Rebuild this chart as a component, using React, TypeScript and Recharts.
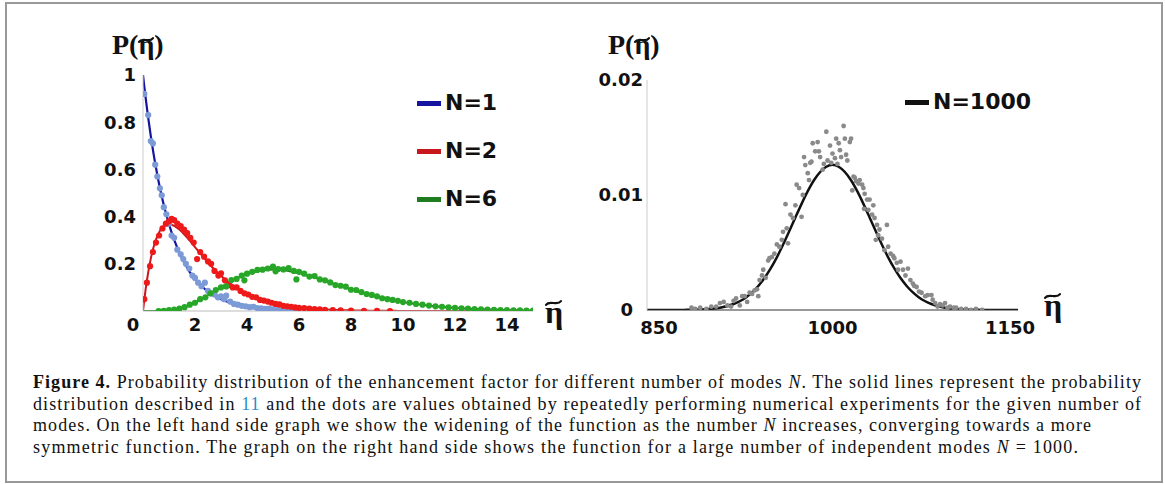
import { ComposedChart, Legend, Line, Scatter, XAxis, YAxis } from "recharts";

// left panel: solid curves sampled along eta
const leftCurveX = [
  0, 0.05, 0.1, 0.15, 0.2, 0.3, 0.4, 0.5, 0.6, 0.7, 0.8, 0.9, 1.0,
  1.2, 1.4, 1.6, 1.8, 2.0, 2.2, 2.4, 2.6, 2.8, 3.0, 3.2, 3.4, 3.6, 3.8, 4.0,
  4.2, 4.4, 4.6, 4.8, 5.0, 5.2, 5.4, 5.6, 5.8, 6.0, 6.2, 6.4, 6.6, 6.8, 7.0,
  7.2, 7.4, 7.6, 7.8, 8.0, 8.2, 8.4, 8.6, 8.8, 9.0, 9.2, 9.4, 9.6, 9.8, 10.0,
  10.5, 11, 11.5, 12, 12.5, 13, 13.5, 14, 14.5, 15,
];
const curveN1 = [
  1, 0.951, 0.905, 0.861, 0.819, 0.741, 0.67, 0.607, 0.549, 0.497, 0.449, 0.407, 0.368,
  0.301, 0.247, 0.202, 0.165, 0.135, 0.111, 0.091, 0.074, 0.061, 0.05, 0.041, 0.033, 0.027,
  0.022, 0.018, 0.015, 0.012, 0.01, 0.008, 0.007, 0.0055, 0.0045, 0.0037, 0.003, 0.0025,
];
const curveN2 = [
  0, 0.0476, 0.0905, 0.129, 0.164, 0.222, 0.268, 0.303, 0.329, 0.348, 0.359, 0.366, 0.368,
  0.361, 0.345, 0.323, 0.298, 0.271, 0.244, 0.218, 0.193, 0.17, 0.149, 0.13, 0.113, 0.098,
  0.085, 0.073, 0.063, 0.054, 0.046, 0.04, 0.034, 0.029, 0.024, 0.021, 0.018, 0.015, 0.0126,
  0.0106, 0.009, 0.0076, 0.0064, 0.0054, 0.0045, 0.0038, 0.0032, 0.0027, 0.0023, 0.0019,
  0.0016, 0.0013, 0.0011, 0.0009, 0.0008, 0.0007, 0.0005, 0.00045,
  0.0003, 0.0002, 0.0001, 0.0001, 0, 0, 0, 0, 0, 0,
];
const curveN6 = [
  0, 0, 0, 0, 0, 0, 0.0001, 0.0002, 0.0004, 0.0007, 0.0012, 0.002, 0.0031,
  0.0062, 0.0111, 0.0176, 0.026, 0.0361, 0.0476, 0.0602, 0.0735, 0.0872, 0.1008,
  0.114, 0.1264, 0.1377, 0.1477, 0.1563, 0.1634, 0.1688, 0.1725, 0.1747, 0.1755,
  0.1748, 0.1728, 0.1697, 0.1656, 0.1606, 0.1549, 0.1487, 0.1419, 0.135, 0.1277,
  0.1204, 0.113, 0.1058, 0.0986, 0.0916, 0.0849, 0.0784, 0.0722, 0.0663, 0.0607,
  0.0555, 0.0506, 0.046, 0.0418, 0.0378,
  0.0293, 0.0224, 0.017, 0.0127, 0.0095, 0.007, 0.0051, 0.0037, 0.0027, 0.0019,
];

// left panel: simulated dots [eta, P]
const dotsN1 = [
  [0.05, 0.92], [0.2, 0.83], [0.3, 0.72], [0.38, 0.71], [0.47, 0.62], [0.55, 0.57], [0.65, 0.52],
  [0.72, 0.49], [0.8, 0.44], [0.9, 0.41], [1.0, 0.37], [1.1, 0.32], [1.2, 0.31], [1.32, 0.26],
  [1.45, 0.24], [1.55, 0.22], [1.65, 0.2], [1.78, 0.18], [1.9, 0.15], [2.0, 0.14], [2.12, 0.12],
  [2.25, 0.105], [2.38, 0.12], [2.5, 0.085], [2.62, 0.075], [2.75, 0.07], [2.88, 0.058],
  [3.0, 0.062], [3.12, 0.05], [3.2, 0.065], [3.35, 0.04], [3.5, 0.03], [3.65, 0.027], [3.8, 0.022],
  [3.95, 0.02], [4.1, 0.016], [4.25, 0.018], [4.4, 0.012], [4.55, 0.011], [4.7, 0.009],
  [4.85, 0.01], [5.0, 0.007], [5.2, 0.006], [5.4, 0.005], [5.6, 0.004], [5.8, 0.003], [6.0, 0.002],
];
const dotsN2 = [
  [0.05, 0.05], [0.15, 0.12], [0.27, 0.19], [0.38, 0.25], [0.5, 0.29], [0.62, 0.32], [0.75, 0.35],
  [0.88, 0.37], [1.0, 0.38], [1.1, 0.39], [1.2, 0.385], [1.32, 0.37], [1.45, 0.36], [1.58, 0.345],
  [1.7, 0.33], [1.82, 0.31], [1.95, 0.29], [2.08, 0.22], [2.2, 0.25], [2.35, 0.23], [2.5, 0.21],
  [2.62, 0.2], [2.75, 0.17], [2.9, 0.15], [3.0, 0.16], [3.15, 0.13], [3.3, 0.11], [3.45, 0.1],
  [3.6, 0.1], [3.75, 0.085], [3.9, 0.075], [4.05, 0.07], [4.2, 0.06], [4.35, 0.058], [4.5, 0.047],
  [4.65, 0.044], [4.8, 0.04], [4.95, 0.035], [5.1, 0.03], [5.25, 0.028], [5.4, 0.022], [5.55, 0.02],
  [5.7, 0.018], [5.85, 0.015], [6.0, 0.013], [6.2, 0.012], [6.4, 0.01], [6.6, 0.008], [6.8, 0.007],
  [7.0, 0.005], [7.3, 0.004], [7.6, 0.003], [8.0, 0.002], [8.5, 0.001], [9.0, 0.001], [9.5, 0],
];
const dotsN6 = [
  [0.6, 0], [0.8, 0.001], [1.0, 0.004], [1.2, 0.006], [1.4, 0.01], [1.6, 0.016], [1.8, 0.027],
  [2.0, 0.035], [2.2, 0.05], [2.4, 0.058], [2.6, 0.075], [2.8, 0.089], [3.0, 0.1], [3.2, 0.104],
  [3.4, 0.131], [3.6, 0.136], [3.8, 0.15], [3.9, 0.13], [4.0, 0.158], [4.2, 0.166], [4.4, 0.174],
  [4.6, 0.175], [4.8, 0.18], [5.0, 0.188], [5.1, 0.168], [5.2, 0.178], [5.4, 0.176], [5.6, 0.182],
  [5.8, 0.17], [5.9, 0.134], [6.0, 0.166], [6.2, 0.158], [6.4, 0.146], [6.6, 0.148], [6.8, 0.134],
  [7.0, 0.13], [7.2, 0.121], [7.4, 0.11], [7.6, 0.107], [7.8, 0.103], [8.0, 0.09], [8.2, 0.089],
  [8.4, 0.08], [8.6, 0.072], [8.8, 0.068], [9.0, 0.062], [9.2, 0.054], [9.4, 0.05], [9.6, 0.047],
  [9.8, 0.043], [10.0, 0.038], [10.25, 0.035], [10.5, 0.03], [10.75, 0.027], [11.0, 0.023],
  [11.25, 0.02], [11.5, 0.018], [11.75, 0.015], [12.0, 0.013], [12.25, 0.011], [12.5, 0.01],
  [12.75, 0.008], [13.0, 0.007], [13.25, 0.006], [13.5, 0.005], [13.75, 0.004], [14.0, 0.004],
  [14.25, 0.003], [14.5, 0.003], [14.75, 0.002], [15.0, 0.002],
];

// right panel: N = 1000
const rightCurveX = [
  850, 860, 870, 880, 890, 900, 910,
  920, 925, 930, 935, 940, 945, 950, 955, 960, 965, 970, 975, 980, 985, 990, 995, 1000,
  1005, 1010, 1015, 1020, 1025, 1030, 1035, 1040, 1045, 1050, 1055, 1060, 1065, 1070, 1075, 1080,
  1090, 1100, 1110, 1120, 1130, 1140, 1150,
];
const curveN1000 = [
  0, 0, 0, 0.00001, 0.00003, 0.000085, 0.00022,
  0.00052, 0.00076, 0.00109, 0.00153, 0.00209, 0.00278, 0.00362, 0.00458, 0.00567, 0.00684,
  0.00805, 0.00923, 0.01033, 0.01128, 0.012, 0.01246, 0.01262,
  0.01246, 0.012, 0.01128, 0.01033, 0.00923, 0.00805, 0.00684, 0.00567, 0.00458, 0.00362,
  0.00278, 0.00209, 0.00153, 0.00109, 0.00076, 0.00052,
  0.00022, 0.000085, 0.00003, 0.00001, 0, 0, 0,
];
const dotsN1000 = [
  [886, 0.0002], [889, 0.0001], [893, 0.0002], [898, 0.0001], [902, 0.0003], [906, 0.0003],
  [909, 0.0006], [912, 0.0007], [915, 0.0004], [918, 0.0003], [920, 0.0008], [922, 0.001],
  [925, 0.0004], [927, 0.0012], [929, 0.0012], [931, 0.0007], [933, 0.0015], [935, 0.0014],
  [937, 0.0017], [939, 0.0018], [940, 0.0012], [941, 0.0026], [943, 0.003], [944, 0.0035],
  [946, 0.0028], [948, 0.0043], [949, 0.0045], [951, 0.0046], [953, 0.0049], [955, 0.0057],
  [957, 0.0055], [959, 0.0061], [960, 0.0068], [962, 0.0092], [963, 0.0071], [964, 0.0058],
  [966, 0.0083], [968, 0.008], [970, 0.0091], [971, 0.0109], [973, 0.0106], [975, 0.0081],
  [976, 0.01], [977, 0.0133], [978, 0.0126], [980, 0.0119], [981, 0.0113], [982, 0.0128],
  [983, 0.0129], [984, 0.0145], [986, 0.0138], [988, 0.0146], [989, 0.0138], [990, 0.0133],
  [992, 0.0122], [993, 0.0127], [995, 0.0155], [996, 0.013], [998, 0.0143], [999, 0.0128],
  [1000, 0.0136], [1002, 0.0132], [1003, 0.0149], [1004, 0.0127], [1005, 0.0145], [1006, 0.0139],
  [1007, 0.0133], [1009, 0.016], [1010, 0.0149], [1011, 0.0135], [1012, 0.013], [1014, 0.0146],
  [1015, 0.0149], [1016, 0.0104], [1017, 0.0116], [1018, 0.0115], [1019, 0.0112], [1021, 0.011],
  [1022, 0.0113], [1024, 0.0109], [1025, 0.0106], [1025.5, 0.0088], [1026, 0.0101], [1028, 0.0096],
  [1029, 0.0087], [1030, 0.0096], [1032, 0.0083], [1033, 0.0091], [1034, 0.008], [1035, 0.0061],
  [1036, 0.0074], [1037, 0.0065], [1038, 0.007], [1040, 0.0062], [1042, 0.0052], [1044, 0.0074],
  [1045, 0.0055], [1047, 0.0049], [1049, 0.0047], [1050, 0.0045], [1052, 0.0041], [1053, 0.0035],
  [1055, 0.0042], [1057, 0.0035], [1059, 0.003], [1061, 0.0036], [1063, 0.0026], [1065, 0.0023],
  [1066, 0.0021], [1068, 0.002], [1070, 0.0016], [1072, 0.0015], [1075, 0.0012], [1077, 0.0013],
  [1080, 0.0013], [1081, 0.0009], [1083, 0.0006], [1085, 0.0003], [1087, 0.0005], [1089, 0.0004],
  [1091, 0.0006], [1093, 0.0002], [1095, 0.0003], [1098, 0.0002], [1100, 0.0002], [1104, 0.0001],
  [1108, 0.0001], [1112, 0], [1116, 0.0001], [1121, 0],
];

const leftXTicks = [0, 2, 4, 6, 8, 10, 12, 14];
const leftYTicks = [0.2, 0.4, 0.6, 0.8, 1];
const rightXTicks = [850, 1000, 1150];
const rightYTicks = [0, 0.01, 0.02];

const leftTable = leftCurveX.map((x, i) => ({ x, n1: curveN1[i], n2: curveN2[i], n6: curveN6[i] }));
const rightTable = rightCurveX.map((x, i) => ({ x, p: curveN1000[i] }));
const toPoints = (pts: number[][]) => pts.map(([x, y]) => ({ x, y }));

const tickFont = {
  fontFamily: '"DejaVu Sans", sans-serif',
  fontWeight: 700,
  fontSize: 18,
  fill: "#111",
};
const serif = '"Liberation Serif", serif';

const xTick = (shift: Record<number, number>) => (props: any) => {
  const { x, y, payload } = props;
  return (
    <text x={x + (shift[payload.value] ?? 0)} y={y} dy="0.71em" textAnchor="middle" {...tickFont}>
      {payload.value}
    </text>
  );
};
const yTick = (shift: Record<number, number>) => (props: any) => {
  const { x, y, payload } = props;
  return (
    <text x={x + (shift[payload.value] ?? 0)} y={y} dy="0.355em" textAnchor="end" {...tickFont}>
      {payload.value}
    </text>
  );
};

const dot = (r: number, color: string) => (p: any) => <circle cx={p.cx} cy={p.cy} r={r} fill={color} />;

// tilde accent drawn as a small wave over the eta
const Tilde = ({ cx, cy, w }: { cx: number; cy: number; w: number }) => (
  <path
    d={`M${cx - w / 2},${cy + 1.8} C${cx - w / 4},${cy - 3.5} ${cx + w / 4},${cy + 3.5} ${cx + w / 2},${cy - 1.8}`}
    stroke="#111"
    strokeWidth={2.2}
    fill="none"
    strokeLinecap="round"
  />
);

const YTitle = ({ x, y }: { x: number; y: number }) => (
  <g>
    <text x={x} y={y} fontFamily={serif} fontWeight={700} fill="#111" fontSize={28}>P(η)</text>
    <Tilde cx={x + 34} cy={y - 14} w={14} />
  </g>
);
const XTitle = ({ x, y }: { x: number; y: number }) => (
  <g>
    <text x={x} y={y} fontFamily={serif} fontWeight={700} fill="#111" fontSize={32}>η</text>
    <Tilde cx={x + 8.5} cy={y - 20} w={15} />
  </g>
);

const LegendBox = ({ items }: { items: { label: string; color: string }[] }) => (
  <div>
    {items.map((it) => (
      <div key={it.label} style={{ display: "flex", alignItems: "center", height: 48 }}>
        <span style={{ width: 24, height: 5, background: it.color, marginRight: 4 }} />
        <span style={{ font: '700 22px "DejaVu Sans"', lineHeight: "22px", color: "#111" }}>
          {it.label}
        </span>
      </div>
    ))}
  </div>
);

const BLUE = "#1414a0";
const RED = "#c8161d";
const GREEN = "#1f7d1f";

export default function App() {
  return (
    <div style={{ position: "absolute", left: 0, top: 0, width: 1165, height: 484, background: "#fff" }}>
      <div
        style={{
          position: "absolute",
          left: 5,
          top: 2,
          width: 1158,
          height: 481,
          border: "2px solid #999",
          boxSizing: "border-box",
        }}
      />

      <div style={{ position: "absolute", left: 0, top: 0 }}>
        <ComposedChart width={560} height={340} data={leftTable} margin={{ top: 75, right: 27, bottom: 0, left: 103 }}>
          <XAxis
            dataKey="x"
            type="number"
            domain={[0, 15]}
            ticks={leftXTicks}
            height={29}
            tickLine={false}
            tickSize={6}
            tickMargin={1}
            axisLine={{ stroke: "#bbb" }}
            tick={xTick({ 0: -10 })}
            allowDataOverflow
          />
          <YAxis
            type="number"
            domain={[0, 1]}
            ticks={leftYTicks}
            width={40}
            tickLine={false}
            tickSize={6}
            tickMargin={1}
            axisLine={{ stroke: "#ccc" }}
            tick={yTick({})}
            allowDataOverflow
          />
          <Scatter data={toPoints(dotsN1)} dataKey="y" shape={dot(3.1, "#7b9ad6")} isAnimationActive={false} />
          <Scatter data={toPoints(dotsN2)} dataKey="y" shape={dot(3.1, "#ee1a1a")} isAnimationActive={false} />
          <Scatter data={toPoints(dotsN6)} dataKey="y" shape={dot(3.1, "#27a627")} isAnimationActive={false} />
          <Line dataKey="n6" type="monotone" stroke={GREEN} strokeWidth={2} dot={false} isAnimationActive={false} />
          <Line dataKey="n2" type="monotone" stroke={RED} strokeWidth={2} dot={false} isAnimationActive={false} />
          <Line dataKey="n1" type="monotone" stroke={BLUE} strokeWidth={2.2} dot={false} isAnimationActive={false} />
          <Legend
            layout="horizontal"
            verticalAlign="middle"
            align="center"
            wrapperStyle={{ left: 417, top: 79, width: "auto", height: "auto" }}
            content={() => (
              <LegendBox
                items={[
                  { label: "N=1", color: BLUE },
                  { label: "N=2", color: RED },
                  { label: "N=6", color: GREEN },
                ]}
              />
            )}
          />
        </ComposedChart>
      </div>

      <div style={{ position: "absolute", left: 560, top: 0 }}>
        <ComposedChart width={480} height={340} data={rightTable} margin={{ top: 80, right: 22, bottom: 0, left: 47 }}>
          <XAxis
            dataKey="x"
            type="number"
            domain={[850, 1150]}
            ticks={rightXTicks}
            height={30}
            tickLine={false}
            tickSize={6}
            tickMargin={5}
            axisLine={{ stroke: "#333" }}
            tick={xTick({ 850: 12, 1150: -8 })}
            allowDataOverflow
          />
          <YAxis
            type="number"
            domain={[0, 0.02]}
            ticks={rightYTicks}
            width={40}
            tickLine={false}
            tickSize={3}
            tickMargin={1}
            axisLine={{ stroke: "#ccc" }}
            tick={yTick({ 0: -10 })}
            allowDataOverflow
          />
          <Scatter data={toPoints(dotsN1000)} dataKey="y" shape={dot(2.4, "#8a8a8a")} isAnimationActive={false} />
          <Line dataKey="p" type="monotone" stroke="#111" strokeWidth={2.5} dot={false} isAnimationActive={false} />
          <Legend
            layout="horizontal"
            verticalAlign="middle"
            align="center"
            wrapperStyle={{ left: 345, top: 78, width: "auto", height: "auto" }}
            content={() => <LegendBox items={[{ label: "N=1000", color: "#111" }]} />}
          />
        </ComposedChart>
      </div>

      <svg width={1165} height={484} style={{ position: "absolute", left: 0, top: 0, pointerEvents: "none" }}>
        <YTitle x={112} y={54} />
        <YTitle x={608} y={54} />
        <XTitle x={545} y={323} />
        <XTitle x={1044} y={316} />

        <g fontFamily={serif} fontSize={18} fill="#111">
          <text x={33} y={388} textLength={1108} lengthAdjust="spacing">
            <tspan fontWeight={700}>Figure 4.</tspan>
            {" Probability distribution of the enhancement factor for different number of modes "}
            <tspan fontStyle="italic">N</tspan>
            {". The solid lines represent the probability"}
          </text>
          <text x={33} y={409.5} textLength={1108} lengthAdjust="spacing">
            {"distribution described in "}
            <tspan fill="#2a8ccc">11</tspan>
            {" and the dots are values obtained by repeatedly performing numerical experiments for the given number of"}
          </text>
          <text x={33} y={431} textLength={1058} lengthAdjust="spacing">
            {"modes. On the left hand side graph we show the widening of the function as the number "}
            <tspan fontStyle="italic">N</tspan>
            {" increases, converging towards a more"}
          </text>
          <text x={33} y={452.5} textLength={1045} lengthAdjust="spacing">
            {"symmetric function. The graph on the right hand side shows the function for a large number of independent modes "}
            <tspan fontStyle="italic">N</tspan>
            {" = 1000."}
          </text>
        </g>
      </svg>
    </div>
  );
}
